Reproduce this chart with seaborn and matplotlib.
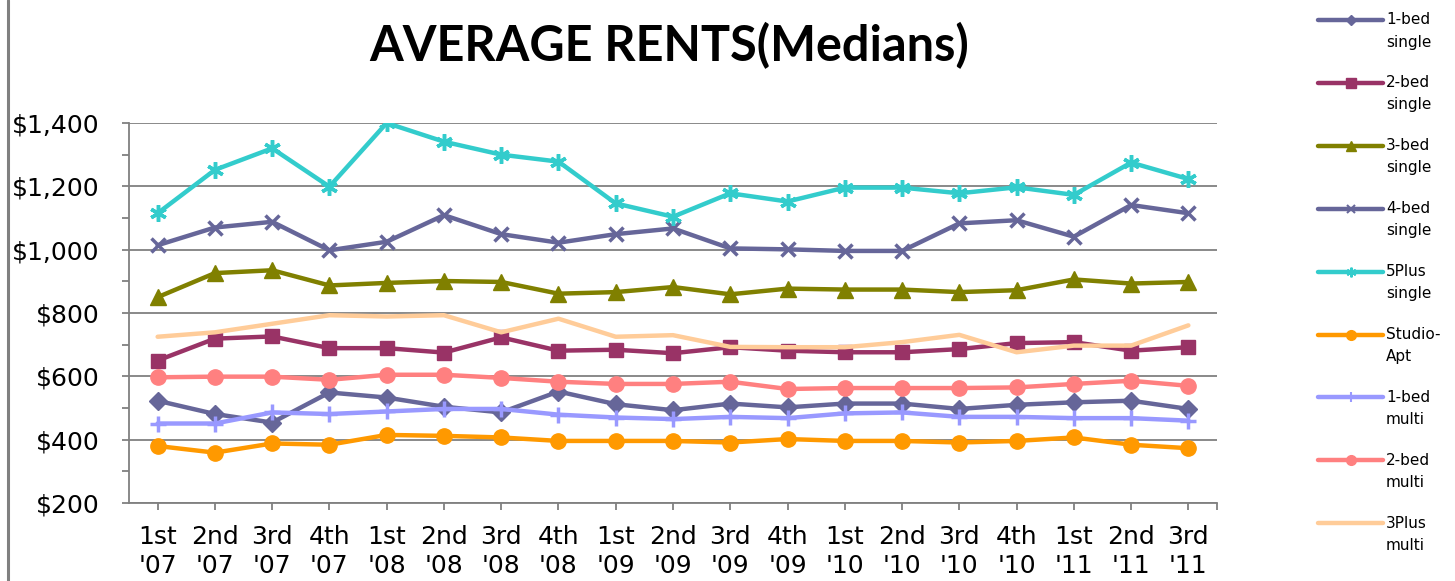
import matplotlib
matplotlib.use("Agg")
import matplotlib.pyplot as plt
from matplotlib.lines import Line2D
from matplotlib.ticker import MultipleLocator, FuncFormatter
import seaborn as sns
import numpy as np

# ---------------- data ----------------
quarters = ["1st\n'07", "2nd\n'07", "3rd\n'07", "4th\n'07",
            "1st\n'08", "2nd\n'08", "3rd\n'08", "4th\n'08",
            "1st\n'09", "2nd\n'09", "3rd\n'09", "4th\n'09",
            "1st\n'10", "2nd\n'10", "3rd\n'10", "4th\n'10",
            "1st\n'11", "2nd\n'11", "3rd\n'11"]

bed1_single = [523, 481, 454, 549, 533, 504, 486, 552, 512, 493, 514, 502, 514, 514, 497, 510, 518, 523, 497]
bed2_single = [650, 719, 726, 689, 689, 675, 723, 681, 684, 673, 692, 681, 676, 676, 686, 705, 708, 681, 692]
bed3_single = [850, 926, 935, 887, 895, 901, 898, 861, 866, 882, 859, 877, 874, 874, 866, 872, 906, 893, 898]
bed4_single = [1014, 1070, 1088, 998, 1025, 1109, 1049, 1022, 1049, 1067, 1004, 1001, 996, 996, 1083, 1093, 1041, 1141, 1115]
plus5_single = [1115, 1252, 1320, 1199, 1400, 1341, 1300, 1278, 1146, 1104, 1178, 1152, 1196, 1196, 1178, 1197, 1173, 1275, 1223]
studio_apt = [380, 359, 388, 384, 415, 412, 407, 396, 396, 396, 391, 402, 396, 396, 391, 396, 407, 384, 373]
bed1_multi = [451, 451, 486, 481, 489, 497, 497, 479, 470, 465, 472, 468, 483, 486, 472, 472, 468, 468, 460]
bed2_multi = [597, 599, 599, 589, 605, 605, 595, 583, 576, 576, 583, 560, 563, 563, 563, 565, 576, 586, 570]
plus3_multi = [725, 739, 766, 793, 789, 793, 739, 782, 725, 730, 693, 692, 692, 708, 731, 676, 697, 697, 761]

series_names = ["1-bed\nsingle", "2-bed\nsingle", "3-bed\nsingle", "4-bed\nsingle",
                "5Plus\nsingle", "Studio-\nApt", "1-bed\nmulti", "2-bed\nmulti", "3Plus\nmulti"]
series_values = [bed1_single, bed2_single, bed3_single, bed4_single, plus5_single,
                 studio_apt, bed1_multi, bed2_multi, plus3_multi]

colors = ["#666699", "#993366", "#808000", "#666699", "#33CCCC",
          "#FF9900", "#9999FF", "#FF8080", "#FFCC99"]
markers = ["D", "s", "^", "x", (6, 2, 0), "o", "+", "o", None]
msizes = [9, 10, 11, 10, 12, 11, 11, 11, 0]
mews = [1, 1, 1, 2.5, 2.5, 1, 2.5, 1, 1]
leg_msizes = [5, 7, 7, 6, 7, 7, 7, 7, 0]

# ---------------- figure ----------------
sns.set_style("white")
plt.rcParams['font.family'] = ['DejaVu Sans']
plt.rcParams['text.color'] = 'black'
plt.rcParams['xtick.labelcolor'] = 'black'
plt.rcParams['ytick.labelcolor'] = 'black'

W, H = 1455, 581
fig = plt.figure(figsize=(W / 100, H / 100), dpi=100)
ax = fig.add_axes([129 / W, 1 - 503 / H, (1217 - 129) / W, (503 - 123) / H])

x = np.arange(len(quarters))
for name, vals, c, m, ms, mew in zip(series_names, series_values, colors, markers, msizes, mews):
    sns.lineplot(x=x, y=vals, ax=ax, color=c, linewidth=3.2, marker=m,
                 markersize=ms, markeredgecolor=c, markerfacecolor=c,
                 markeredgewidth=mew, label=name, legend=False)

ax.set_xlim(-0.5, len(quarters) - 0.5)
ax.set_ylim(200, 1400)

ax.yaxis.set_major_locator(MultipleLocator(200))
ax.yaxis.set_minor_locator(MultipleLocator(100))
ax.yaxis.set_major_formatter(FuncFormatter(lambda v, p: "${:,.0f}".format(v)))
ax.set_xticks(x)
ax.set_xticklabels(quarters, linespacing=1.25)
ax.set_xticks([len(quarters) - 0.5], minor=True)

ax.grid(axis="y", which="major", color="#808080", linewidth=1.3)
ax.grid(axis="x", visible=False)
ax.set_axisbelow(True)

for s in ["top", "right"]:
    ax.spines[s].set_visible(False)
for s in ["left", "bottom"]:
    ax.spines[s].set_color("#808080")
    ax.spines[s].set_linewidth(1.3)

ax.tick_params(axis="y", which="both", direction="out", length=5, width=1.3,
               color="#808080", labelsize=18, pad=16, left=True)
ax.tick_params(axis="x", which="both", direction="out", length=5, width=1.3,
               color="#808080", labelsize=18, pad=11, bottom=True)
ax.set_xlabel("")
ax.set_ylabel("")

# title
fig.text(669 / W, 1 - 46 / H, "AVERAGE RENTS(Medians)", fontsize=35,
         fontweight="bold", family=["Lato", "DejaVu Sans"], ha="center", va="center",
         color="black")

# left border of chart frame
fig.add_artist(Line2D([8 / W, 8 / W], [0, 1], transform=fig.transFigure,
                      color="#808080", linewidth=2.2))

# legend (manual, right side)
x0, x1, xt = 1318 / W, 1383 / W, 1386 / W
for i, (name, c, m, lms, mew) in enumerate(zip(series_names, colors, markers, leg_msizes, mews)):
    yp = 20 + i * 62.9
    yf = 1 - yp / H
    ln = Line2D([x0, (x0 + x1) / 2, x1], [yf, yf, yf], transform=fig.transFigure,
                color=c, linewidth=3.2, marker=m if m is not None else "",
                markevery=[1], markersize=lms, markeredgecolor=c, markerfacecolor=c,
                markeredgewidth=min(mew, 1.5))
    fig.add_artist(ln)
    l1, l2 = name.split("\n")
    fig.text(xt, yf, l1, fontsize=11, ha="left", va="center", color="black")
    fig.text(xt, 1 - (yp + 22) / H, l2, fontsize=11, ha="left", va="center", color="black")

fig.savefig("out.png", dpi=100)
